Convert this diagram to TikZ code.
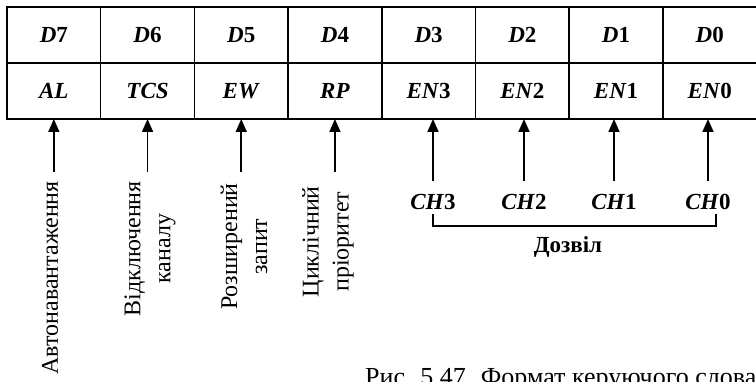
\documentclass[tikz,border=0pt]{standalone}
\usepackage{fontspec}
\setmainfont{Liberation Serif}
\usetikzlibrary{positioning,arrows.meta}
\tikzset{
  cell/.style={draw, line width=1.5pt, minimum width=93.7pt, minimum height=56pt,
    inner sep=0pt, outer sep=0pt, font=\fontsize{23}{26}\selectfont\bfseries},
  up/.style={-{Triangle[length=13pt,width=11pt]}, line width=1.7pt},
  vlabel/.style={rotate=90, anchor=east, align=center, inner sep=0pt,
    font=\fontsize{24}{30}\selectfont},
  chlabel/.style={inner sep=2pt, font=\fontsize{23}{26}\selectfont\bfseries}
}
\newcommand{\regbit}[2]{\textit{#1}#2}

\begin{document}
\begin{tikzpicture}[x=1pt,y=1pt]
\useasboundingbox (0,0) rectangle (756,381);
% upper row: bit numbers
\node[cell] (d7) at (53.85,346) {\regbit{D}{7}};
\node[cell, right=0pt of d7] (d6) {\regbit{D}{6}};
\node[cell, right=0pt of d6] (d5) {\regbit{D}{5}};
\node[cell, right=0pt of d5] (d4) {\regbit{D}{4}};
\node[cell, right=0pt of d4] (d3) {\regbit{D}{3}};
\node[cell, right=0pt of d3] (d2) {\regbit{D}{2}};
\node[cell, right=0pt of d2] (d1) {\regbit{D}{1}};
\node[cell, right=0pt of d1] (d0) {\regbit{D}{0}};
% lower row: control bits
\node[cell, below=0pt of d7] (al) {\textit{AL}};
\node[cell, right=0pt of al] (tcs) {\textit{TCS}};
\node[cell, right=0pt of tcs] (ew) {\textit{EW}};
\node[cell, right=0pt of ew] (rp) {\textit{RP}};
\node[cell, right=0pt of rp] (en3) {\regbit{EN}{3}};
\node[cell, right=0pt of en3] (en2) {\regbit{EN}{2}};
\node[cell, right=0pt of en2] (en1) {\regbit{EN}{1}};
\node[cell, right=0pt of en1] (en0) {\regbit{EN}{0}};

% mode bits
\coordinate[below=53pt of al.south] (alin);
\coordinate[below=53pt of tcs.south] (tcsin);
\coordinate[below=53pt of ew.south] (ewin);
\coordinate[below=53pt of rp.south] (rpin);
\node[vlabel] (autoload) at (50,200) {Автонавантаження};
\node[vlabel] (chstop) at (150,200) {Відключення\\каналу};
\node[vlabel] (extreq) at (244,198) {Розширений\\запит};
\node[vlabel] (rotpri) at (328,195) {Циклічний\\пріоритет};
\draw[up] (alin) -- (al.south);
\draw[up] (tcsin) -- (tcs.south);
\draw[up] (ewin) -- (ew.south);
\draw[up] (rpin) -- (rp.south);

% channel enables
\node[chlabel] (ch3) at (433,179) {\regbit{CH}{3}};
\node[chlabel] (ch2) at (524,179) {\regbit{CH}{2}};
\node[chlabel] (ch1) at (614,179) {\regbit{CH}{1}};
\node[chlabel] (ch0) at (708,179) {\regbit{CH}{0}};
\draw[up, shorten <=11pt] (ch3.north) -- (ch3.north |- en3.south);
\draw[up, shorten <=11pt] (ch2.north) -- (ch2.north |- en2.south);
\draw[up, shorten <=11pt] (ch1.north) -- (ch1.north |- en1.south);
\draw[up, shorten <=11pt] (ch0.north) -- (ch0.north |- en0.south);
\draw[line width=1.4pt] ([yshift=-2pt]ch3.south) -- ++(0,-12)
  -| ([xshift=8pt,yshift=-2pt]ch0.south);
\node[font=\fontsize{23}{26}\selectfont\bfseries] (perm) at (568,134) {Дозвіл};

\node[anchor=base west, inner sep=0pt, font=\fontsize{26}{30}\selectfont]
  (caption) at (365,-4) {Рис. 5.47. Формат керуючого слова};
\end{tikzpicture}
\end{document}
